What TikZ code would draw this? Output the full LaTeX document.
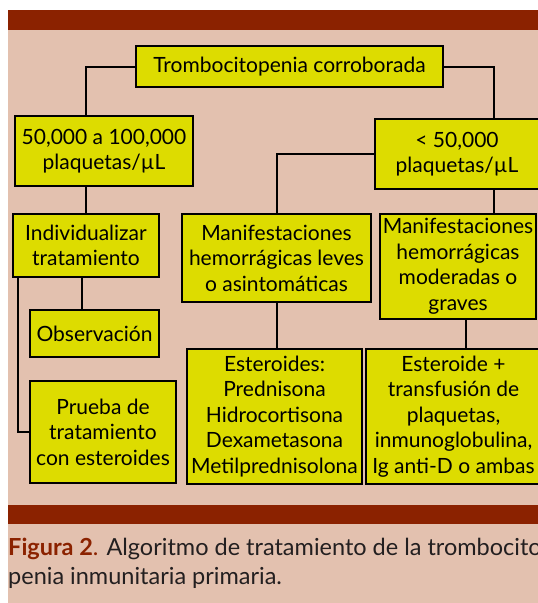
\documentclass[tikz,border=0pt]{standalone}
\usepackage{fontspec}
\setmainfont{Lato}
\definecolor{bgpink}{RGB}{227,193,175}
\definecolor{barred}{RGB}{139,34,0}
\definecolor{boxyellow}{RGB}{221,220,0}
\definecolor{captext}{RGB}{35,31,32}

\begin{document}
\begin{tikzpicture}[x=1pt,y=-1pt,
  box/.style={draw=black, line width=2pt, fill=boxyellow, align=center, inner sep=0pt, font=\fontsize{21}{25.5}\selectfont},
  link/.style={draw=black, line width=2pt},
  captxt/.style={anchor=base west, inner sep=0pt, text=captext, font=\fontsize{23.5}{29}\selectfont}]
\useasboundingbox (0,0) rectangle (538,603);
\fill[bgpink] (8,10) rectangle (538,603);
\fill[barred] (8,10) rectangle (538,30);
\fill[barred] (8,505) rectangle (538,524);
\node[box, minimum width=307, minimum height=41] (tromb) at (289.5,66.5) {Trombocitopenia corroborada};
\node[box, minimum width=178, minimum height=70] (cien) at (104,151) {50,000 a 100,000\\plaquetas/µL};
\node[box, minimum width=146, minimum height=63] (indiv) at (86,245.5) {Individualizar\\tratamiento};
\node[box, minimum width=129, minimum height=47] (obs) at (94.5,333.5) {Observación};
\node[box, minimum width=146, minimum height=102] (prueba) at (103,432) {Prueba de\\tratamiento\\con esteroides};
\node[box, minimum width=164, minimum height=70] (cincuenta) at (457,154) {< 50,000\\plaquetas/µL};
\node[box, minimum width=189, minimum height=88] (leves) at (276.5,258) {Manifestaciones\\hemorrágicas leves\\o asintomáticas};
\node[box, minimum width=156, minimum height=105] (graves) at (458,266.5) {Manifestaciones\\hemorrágicas\\moderadas o\\graves};
\node[box, minimum width=175, minimum height=135] (ester) at (274.5,416.5) {Esteroides:\\Prednisona\\Hidrocortisona\\Dexametasona\\Metilprednisolona};
\node[box, minimum width=175, minimum height=135] (transf) at (453.5,416.5) {Esteroide +\\transfusión de\\plaquetas,\\inmunoglobulina,\\Ig anti-D o ambas};
\draw[link] (tromb.west) -| ([xshift=-18pt]cien.north);
\draw[link] (tromb.east) -| ([xshift=37pt]cincuenta.north);
\draw[link] (cien.south) ++(-18pt,0) -- (indiv.north);
\draw[link] ([xshift=-4pt]indiv.south) -- ([xshift=-4pt]indiv.south |- obs.north);
\draw[link] ([xshift=-68pt]indiv.south) |- (prueba.west);
\draw[link] (cincuenta.west) -| (leves.north);
\draw[link] ([xshift=37pt]cincuenta.south) -- ([xshift=37pt]cincuenta.south |- graves.north);
\draw[link] (leves.south) -- (leves.south |- ester.north);
\draw[link] ([xshift=8pt]graves.south) -- ([xshift=8pt]graves.south |- transf.north);
\node[captxt] (cap1) at (8,555) {\textcolor{barred}{\textbf{Figura 2}.} Algoritmo de tratamiento de la trombocito};
\node[captxt] (cap2) at (8,584) {penia inmunitaria primaria.};
\end{tikzpicture}
\end{document}
